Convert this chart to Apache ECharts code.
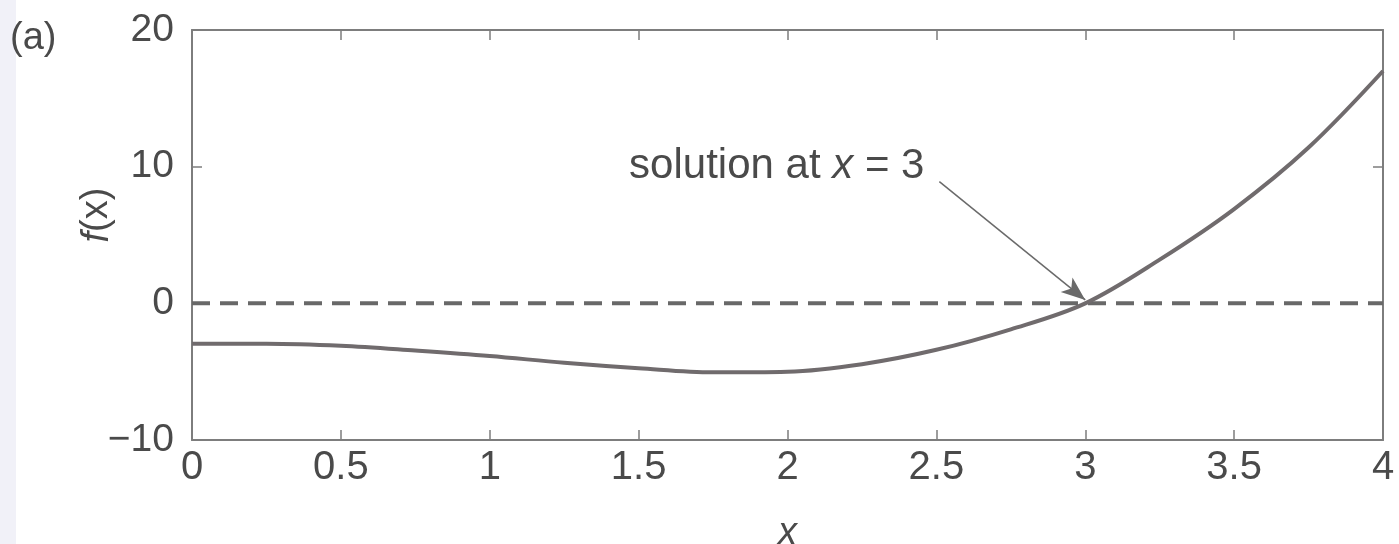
<!DOCTYPE html>
<html>
<head>
<meta charset="utf-8">
<script src="https://cdn.jsdelivr.net/npm/echarts@6/dist/echarts.min.js"></script>
<style>
  html, body { margin: 0; padding: 0; background: #fff; }
  #chart { width: 1399px; height: 544px; }
</style>
</head>
<body>
<div id="chart"></div>
<script>
// Sampled function values f(x) on [0, 4]
const xValues = [0, 0.25, 0.5, 0.75, 1.0, 1.25, 1.5, 1.75, 2.0, 2.25, 2.5, 2.75, 3.0, 3.25, 3.5, 3.75, 4.0];
const fValues = [-2.95, -2.95, -3.1, -3.45, -3.85, -4.35, -4.75, -5.05, -5.0, -4.45, -3.4, -1.9, 0.0, 3.2, 6.9, 11.4, 17.0];

// Reference line f(x) = 0
const zeroX = [0, 4];
const zeroY = [0, 0];

// Axis ranges and tick steps
const xRange = [0, 4];
const xStep = 0.5;
const yRange = [-10, 20];
const yStep = 10;

// Annotation: label anchor and arrow from label to the root
const noteText = ['solution at ', 'x', ' = 3'];
const noteAnchor = [2.46, 10.0];
const arrowFrom = [2.51, 8.9];
const arrowTo = [3.0, 0.25];

const ink = '#4a4a4a';
const axisGray = '#7d7d7d';
const font = 'Liberation Sans, Arial, Helvetica, sans-serif';

const chart = echarts.init(document.getElementById('chart'), null, { renderer: 'canvas' });

const fmtNum = v => String(v).replace('-', '\u2212');

const baseX = {
  type: 'value', min: xRange[0], max: xRange[1], interval: xStep,
  axisLine: { show: true, onZero: false, lineStyle: { color: axisGray, width: 2 } },
  axisTick: { show: true, inside: true, length: 10, lineStyle: { color: axisGray, width: 1.5 } },
  splitLine: { show: false }
};
const baseY = {
  type: 'value', min: yRange[0], max: yRange[1], interval: yStep,
  axisLine: { show: true, onZero: false, lineStyle: { color: axisGray, width: 2 } },
  axisTick: { show: true, inside: true, length: 10, lineStyle: { color: axisGray, width: 1.5 } },
  splitLine: { show: false }
};

chart.setOption({
  backgroundColor: '#ffffff',
  animation: false,
  textStyle: { fontFamily: font },
  graphic: [
    { type: 'rect', left: 0, top: 0, shape: { width: 16, height: 544 }, style: { fill: '#f1f1f8' }, z: -10 },
    { type: 'text', left: 10, top: 20, style: { text: '(a)', font: '38px ' + font, fill: ink } }
  ],
  grid: { left: 192, right: 16, top: 30, bottom: 104, containLabel: false, outerBoundsMode: 'none' },
  xAxis: [
    Object.assign({}, baseX, {
      position: 'bottom',
      name: 'x', nameLocation: 'middle', nameGap: 74, nameMoveOverlap: false,
      nameTextStyle: { fontSize: 38, fontStyle: 'italic', color: ink, fontFamily: font },
      axisLabel: { show: true, margin: 8, fontSize: 40, color: ink, fontFamily: font, formatter: fmtNum }
    }),
    Object.assign({}, baseX, { position: 'top', axisLabel: { show: false } })
  ],
  yAxis: [
    Object.assign({}, baseY, {
      position: 'left',
      name: '{i|f}(x)', nameLocation: 'middle', nameGap: 76, nameRotate: 90, nameMoveOverlap: false,
      nameTextStyle: {
        fontSize: 38, color: ink, fontFamily: font, padding: [0, 0, 0, 40],
        rich: { i: { fontSize: 38, fontStyle: 'italic', color: ink, fontFamily: font } }
      },
      axisLabel: { show: true, margin: 18, fontSize: 39, color: ink, fontFamily: font,
                   padding: [0, 0, 18, 0], formatter: fmtNum }
    }),
    Object.assign({}, baseY, { position: 'right', axisLabel: { show: false } })
  ],
  series: [
    {
      name: 'zero',
      type: 'line',
      data: zeroX.map((x, i) => [x, zeroY[i]]),
      showSymbol: false,
      lineStyle: { color: '#686868', width: 4, type: [18, 10] },
      z: 2
    },
    {
      name: 'f',
      type: 'line',
      data: xValues.map((x, i) => [x, fValues[i]]),
      smooth: 0.35,
      showSymbol: false,
      lineStyle: { color: '#706b6d', width: 4 },
      z: 3,
      markLine: {
        silent: true,
        symbol: ['none', 'arrow'],
        symbolSize: [14, 24],
        lineStyle: { color: '#6a6a6a', width: 1.5, type: 'solid' },
        label: { show: false },
        data: [[{ coord: arrowFrom }, { coord: arrowTo }]]
      },
      markPoint: {
        silent: true,
        symbol: 'circle',
        symbolSize: 0,
        data: [{
          coord: noteAnchor,
          label: {
            show: true,
            position: 'left',
            distance: 0,
            formatter: '{t|' + noteText[0] + '}{i|' + noteText[1] + '}{t|' + noteText[2] + '}',
            rich: {
              t: { fontSize: 42, color: ink, fontFamily: font },
              i: { fontSize: 42, color: ink, fontStyle: 'italic', fontFamily: font }
            }
          }
        }]
      }
    }
  ]
});
</script>
</body>
</html>
